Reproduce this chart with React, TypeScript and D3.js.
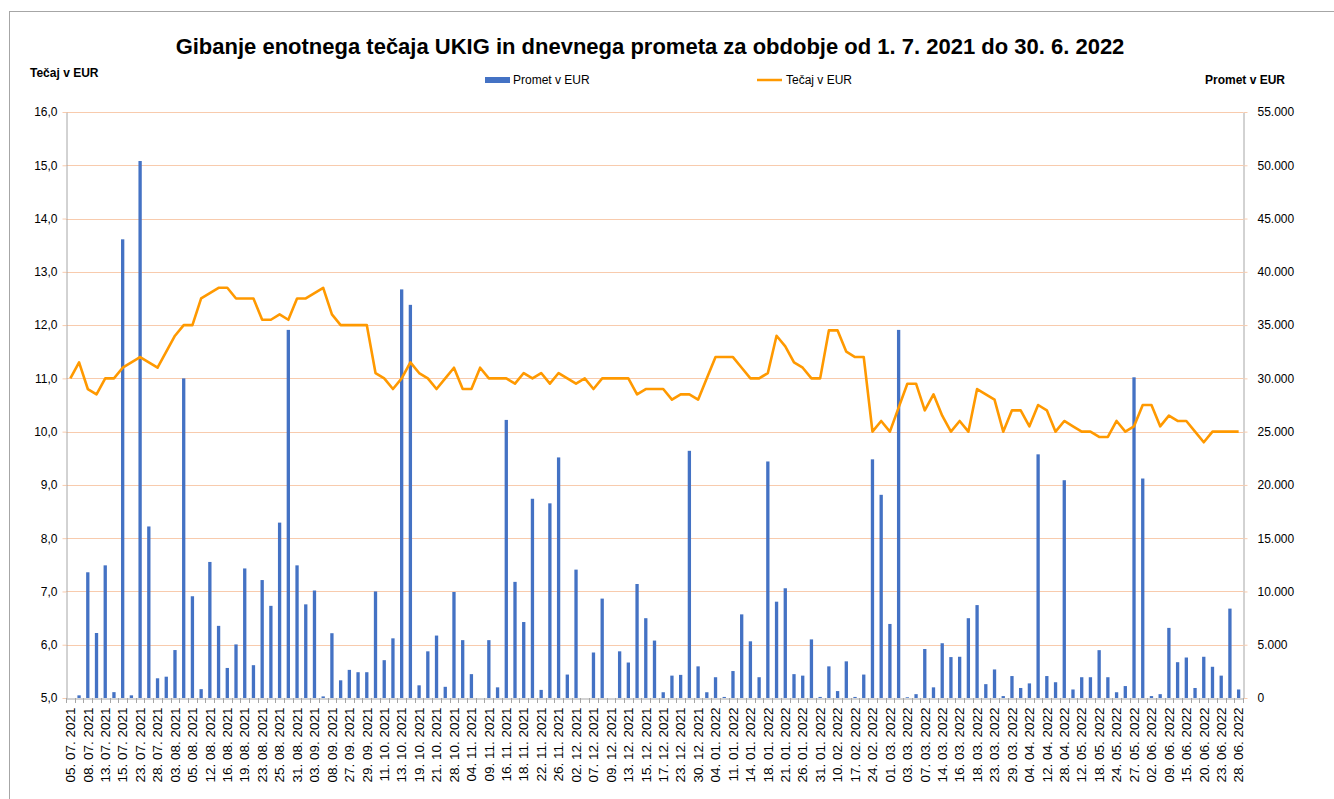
import React, { useRef, useEffect } from 'react';
import * as d3 from 'd3';

// every second trading day is labelled on the category axis
const tickLabels = [
  '05. 07. 2021', '08. 07. 2021', '13. 07. 2021', '15. 07. 2021', '23. 07. 2021', '28. 07. 2021',
  '03. 08. 2021', '05. 08. 2021', '12. 08. 2021', '16. 08. 2021', '19. 08. 2021', '23. 08. 2021',
  '25. 08. 2021', '31. 08. 2021', '03. 09. 2021', '08. 09. 2021', '27. 09. 2021', '29. 09. 2021',
  '11. 10. 2021', '13. 10. 2021', '19. 10. 2021', '21. 10. 2021', '28. 10. 2021', '04. 11. 2021',
  '09. 11. 2021', '16. 11. 2021', '18. 11. 2021', '22. 11. 2021', '26. 11. 2021', '02. 12. 2021',
  '07. 12. 2021', '09. 12. 2021', '13. 12. 2021', '15. 12. 2021', '17. 12. 2021', '23. 12. 2021',
  '30. 12. 2021', '04. 01. 2022', '11. 01. 2022', '14. 01. 2022', '18. 01. 2022', '21. 01. 2022',
  '26. 01. 2022', '31. 01. 2022', '10. 02. 2022', '17. 02. 2022', '24. 02. 2022', '01. 03. 2022',
  '03. 03. 2022', '07. 03. 2022', '14. 03. 2022', '16. 03. 2022', '18. 03. 2022', '23. 03. 2022',
  '29. 03. 2022', '04. 04. 2022', '12. 04. 2022', '28. 04. 2022', '12. 05. 2022', '18. 05. 2022',
  '24. 05. 2022', '27. 05. 2022', '02. 06. 2022', '09. 06. 2022', '15. 06. 2022', '20. 06. 2022',
  '23. 06. 2022', '28. 06. 2022',
];

// Promet v EUR (right axis)
const promet = [
  0, 250, 11800, 6100, 12450, 550, 43050, 250, 50400, 16100,
  1850, 2000, 4500, 30000, 9550, 830, 12770, 6770, 2820, 5030,
  12160, 3080, 11070, 8650, 16460, 34550, 12450, 8790, 10090, 150,
  6080, 1660, 2640, 2420, 2420, 10000, 3550, 5600, 38350, 36900,
  1190, 4380, 5860, 1050, 9950, 5430, 2240, 0, 5430, 1000,
  26100, 10900, 7130, 18700, 760, 18270, 22580, 2200, 12050, 0,
  4270, 9330, 0, 4380, 3330, 10700, 7490, 5390, 540, 2100,
  2170, 23200, 2970, 540, 1950, 100, 2530, 7850, 5320, 1950,
  22200, 9040, 10300, 2240, 2100, 5500, 100, 2970, 650, 3440,
  100, 2200, 22400, 19070, 6950, 34550, 70, 360, 4600, 1000,
  5140, 3840, 3870, 7490, 8720, 1300, 2680, 180, 2060, 940,
  1370, 22870, 2060, 1480, 20440, 800, 1950, 1950, 4490, 1950,
  540, 1120, 30100, 20600, 180, 360, 6580, 3360, 3800, 940,
  3870, 2930, 2100, 8390, 800,
];

// Tečaj v EUR (left axis)
const tecaj = [
  11.0, 11.3, 10.8, 10.7, 11.0, 11.0, 11.2, 11.3, 11.4, 11.3,
  11.2, 11.5, 11.8, 12.0, 12.0, 12.5, 12.6, 12.7, 12.7, 12.5,
  12.5, 12.5, 12.1, 12.1, 12.2, 12.1, 12.5, 12.5, 12.6, 12.7,
  12.2, 12.0, 12.0, 12.0, 12.0, 11.1, 11.0, 10.8, 11.0, 11.3,
  11.1, 11.0, 10.8, 11.0, 11.2, 10.8, 10.8, 11.2, 11.0, 11.0,
  11.0, 10.9, 11.1, 11.0, 11.1, 10.9, 11.1, 11.0, 10.9, 11.0,
  10.8, 11.0, 11.0, 11.0, 11.0, 10.7, 10.8, 10.8, 10.8, 10.6,
  10.7, 10.7, 10.6, 11.0, 11.4, 11.4, 11.4, 11.2, 11.0, 11.0,
  11.1, 11.8, 11.6, 11.3, 11.2, 11.0, 11.0, 11.9, 11.9, 11.5,
  11.4, 11.4, 10.0, 10.2, 10.0, 10.45, 10.9, 10.9, 10.4, 10.7,
  10.3, 10.0, 10.2, 10.0, 10.8, 10.7, 10.6, 10.0, 10.4, 10.4,
  10.1, 10.5, 10.4, 10.0, 10.2, 10.1, 10.0, 10.0, 9.9, 9.9,
  10.2, 10.0, 10.1, 10.5, 10.5, 10.1, 10.3, 10.2, 10.2, 10.0,
  9.8, 10.0, 10.0, 10.0, 10.0,
];

const leftTicks = [5, 6, 7, 8, 9, 10, 11, 12, 13, 14, 15, 16];
const rightTicks = [0, 5000, 10000, 15000, 20000, 25000, 30000, 35000, 40000, 45000, 50000, 55000];

const W = 1334;
const H = 799;
const plot = { left: 66, right: 1243, top: 112, bottom: 698 };
const FONT = '"Liberation Sans", Arial, sans-serif';
const BLUE = '#4472C4';
const ORANGE = '#FF9900';

const Chart = () => {
  const ref = useRef<SVGSVGElement>(null);

  useEffect(() => {
    const svg = d3.select(ref.current);
    svg.selectAll('*').remove();
    svg.style('font-family', FONT);

    const idx = d3.range(promet.length);
    const x = d3.scaleBand<number>()
      .domain(idx)
      .range([plot.left, plot.right])
      .paddingInner(0.62)
      .paddingOuter(0.31);
    const step = x.step();
    const cx = (i: number) => (x(i) as number) + x.bandwidth() / 2;

    const yL = d3.scaleLinear().domain([5, 16]).range([plot.bottom, plot.top]);
    const yR = d3.scaleLinear().domain([0, 55000]).range([plot.bottom, plot.top]);

    // chart frame
    svg.append('rect')
      .attr('x', 9.5).attr('y', 11.5)
      .attr('width', 1400).attr('height', 900)
      .attr('fill', 'none').attr('stroke', '#A6A6A6');

    // gridlines
    svg.append('g')
      .selectAll('line')
      .data(leftTicks.slice(1))
      .enter()
      .append('line')
      .attr('x1', plot.left).attr('x2', plot.right)
      .attr('y1', d => Math.round(yL(d)) + 0.5).attr('y2', d => Math.round(yL(d)) + 0.5)
      .attr('stroke', '#F8CBAD').attr('stroke-width', 1);

    // left axis
    const gl = svg.append('g')
      .attr('transform', `translate(${plot.left + 0.5},0)`)
      .call(d3.axisLeft(yL).tickValues(leftTicks).tickSize(4).tickSizeOuter(0)
        .tickFormat(d => (d as number).toFixed(1).replace('.', ',')));
    gl.select('.domain').attr('stroke', '#A6A6A6');
    gl.selectAll('.tick line').attr('stroke', '#F8CBAD');
    gl.selectAll('.tick text').attr('font-size', 12).attr('fill', '#000').attr('x', -9).attr('font-family', FONT);

    // right axis
    const fmt = d3.format(',');
    const gr = svg.append('g')
      .attr('transform', `translate(${plot.right + 0.5},0)`)
      .call(d3.axisRight(yR).tickValues(rightTicks).tickSize(4).tickSizeOuter(0)
        .tickFormat(d => fmt(d as number).replace(/,/g, '.')));
    gr.select('.domain').attr('stroke', '#A6A6A6');
    gr.selectAll('.tick line').attr('stroke', '#F8CBAD');
    gr.selectAll('.tick text').attr('font-size', 12).attr('fill', '#000').attr('x', 14).attr('font-family', FONT);

    // bars
    svg.append('g')
      .selectAll('rect')
      .data(promet)
      .enter()
      .append('rect')
      .attr('x', (d, i) => x(i) as number)
      .attr('y', d => yR(d))
      .attr('width', x.bandwidth())
      .attr('height', d => yR(0) - yR(d))
      .attr('fill', BLUE);

    // bottom axis
    const gx = svg.append('g')
      .attr('transform', `translate(0,${plot.bottom + 0.5})`)
      .call(d3.axisBottom(x)
        .tickValues(idx.filter(i => i % 2 === 0))
        .tickSize(0)
        .tickFormat(i => tickLabels[(i as number) / 2]));
    gx.select('.domain').attr('stroke', '#A6A6A6');
    gx.selectAll('.tick text')
      .attr('transform', 'rotate(-90)')
      .attr('x', -9)
      .attr('y', 0)
      .attr('dy', '0.35em')
      .attr('font-size', 13.5)
      .attr('fill', '#000')
      .attr('font-family', FONT)
      .style('text-anchor', 'end');

    // category boundary tick marks
    svg.append('g')
      .selectAll('line')
      .data(d3.range(promet.length + 1))
      .enter()
      .append('line')
      .attr('x1', i => Math.round(plot.left + i * step) + 0.5)
      .attr('x2', i => Math.round(plot.left + i * step) + 0.5)
      .attr('y1', plot.bottom)
      .attr('y2', plot.bottom + 5)
      .attr('stroke', '#A6A6A6');

    // line
    const line = d3.line<number>()
      .x((d, i) => cx(i))
      .y(d => yL(d));
    svg.append('path')
      .datum(tecaj)
      .attr('d', line)
      .attr('fill', 'none')
      .attr('stroke', ORANGE)
      .attr('stroke-width', 2.6)
      .attr('stroke-linejoin', 'round');

    // title
    svg.append('text')
      .attr('x', 650).attr('y', 54)
      .attr('text-anchor', 'middle')
      .attr('font-size', 22).attr('font-weight', 'bold')
      .text('Gibanje enotnega tečaja UKIG in dnevnega prometa za obdobje od 1. 7. 2021 do 30. 6. 2022');

    // axis titles
    svg.append('text')
      .attr('x', 30).attr('y', 77)
      .attr('font-size', 12).attr('font-weight', 'bold')
      .text('Tečaj v EUR');
    svg.append('text')
      .attr('x', 1285).attr('y', 84)
      .attr('text-anchor', 'end')
      .attr('font-size', 12).attr('font-weight', 'bold')
      .text('Promet v EUR');

    // legend
    const legend = svg.append('g').attr('font-size', 12);
    legend.append('rect')
      .attr('x', 485).attr('y', 77).attr('width', 25).attr('height', 6)
      .attr('fill', BLUE);
    legend.append('text').attr('x', 513).attr('y', 84).text('Promet v EUR');
    legend.append('line')
      .attr('x1', 757).attr('x2', 782).attr('y1', 80).attr('y2', 80)
      .attr('stroke', ORANGE).attr('stroke-width', 2.5);
    legend.append('text').attr('x', 786).attr('y', 84).text('Tečaj v EUR');
  }, []);

  return <svg ref={ref} width={W} height={H} style={{ position: 'absolute', left: 0, top: 0, background: '#fff' }} />;
};

export default function App() {
  return <Chart />;
}
